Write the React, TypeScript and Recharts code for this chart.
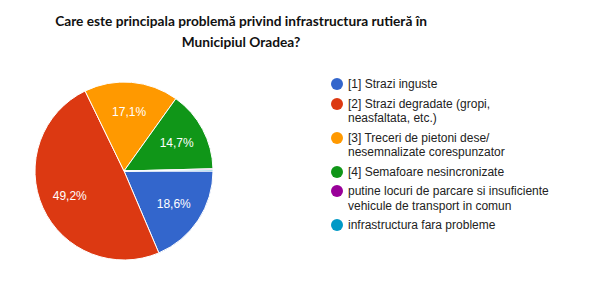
import { Cell, Legend, Pie, PieChart } from "recharts";

const categories = [
  "[1] Strazi inguste",
  "[2] Strazi degradate (gropi, neasfaltata, etc.)",
  "[3] Treceri de pietoni dese/ nesemnalizate corespunzator",
  "[4] Semafoare nesincronizate",
  "putine locuri de parcare si insuficiente vehicule de transport in comun",
  "infrastructura fara probleme",
];
const shares = [18.6, 49.2, 17.1, 14.7, 0.2, 0.2];
const colors = ["#3366cc", "#dc3912", "#ff9900", "#109618", "#990099", "#0099c6"];
const titleLines = [
  "Care este principala problemă privind infrastructura rutieră în",
  "Municipiul Oradea?",
];

const chartData = categories.map((name, i) => ({ name, value: shares[i] }));

const RADIAN = Math.PI / 180;

function renderLabel(props: any) {
  const { cx, cy, midAngle, outerRadius, value } = props;
  if (value < 5) return null;
  const r = outerRadius * 0.67;
  const x = cx + r * Math.cos(-midAngle * RADIAN);
  const y = cy + r * Math.sin(-midAngle * RADIAN);
  return (
    <text
      x={x}
      y={y}
      fill="#ffffff"
      textAnchor="middle"
      dominantBaseline="central"
      fontSize={12}
      fontFamily="'Liberation Sans', Arial, sans-serif"
    >
      {value.toFixed(1).replace(".", ",")}%
    </text>
  );
}

function LegendBox() {
  return (
    <div
      style={{
        fontFamily: "'Liberation Sans', Arial, sans-serif",
        fontSize: 12,
        color: "#222",
        width: 222,
      }}
    >
      {categories.map((c, i) => (
        <div
          key={c}
          style={{ display: "flex", alignItems: "flex-start", marginBottom: 5, lineHeight: "14.5px" }}
        >
          <span
            style={{
              display: "inline-block",
              width: 12,
              height: 12,
              borderRadius: 6,
              background: colors[i],
              marginTop: 1,
              marginRight: 5,
              flexShrink: 0,
            }}
          />
          <span>{c}</span>
        </div>
      ))}
    </div>
  );
}

export default function App() {
  return (
    <div
      style={{
        position: "absolute",
        left: 0,
        top: 0,
        width: 593,
        height: 297,
        background: "#fff",
      }}
    >
      <div
        style={{
          position: "absolute",
          top: 10,
          left: 0,
          width: 482,
          textAlign: "center",
          fontFamily: "Lato, 'Open Sans', sans-serif",
          fontWeight: 700,
          fontSize: 13.7,
          lineHeight: "21px",
          color: "#111",
        }}
      >
        {titleLines.map((t) => (
          <div key={t}>{t}</div>
        ))}
      </div>
      <PieChart width={593} height={297}>
        <Pie
          data={chartData}
          dataKey="value"
          nameKey="name"
          cx={119}
          cy={166}
          outerRadius={89}
          startAngle={0}
          endAngle={-360}
          stroke="#ffffff"
          strokeWidth={1}
          label={renderLabel}
          labelLine={false}
          isAnimationActive={false}
        >
          {chartData.map((d, i) => (
            <Cell key={d.name} fill={colors[i]} />
          ))}
        </Pie>
        <Legend
          content={() => <LegendBox />}
          wrapperStyle={{ position: "absolute", left: 331, top: 77, width: 240 }}
        />
      </PieChart>
    </div>
  );
}
